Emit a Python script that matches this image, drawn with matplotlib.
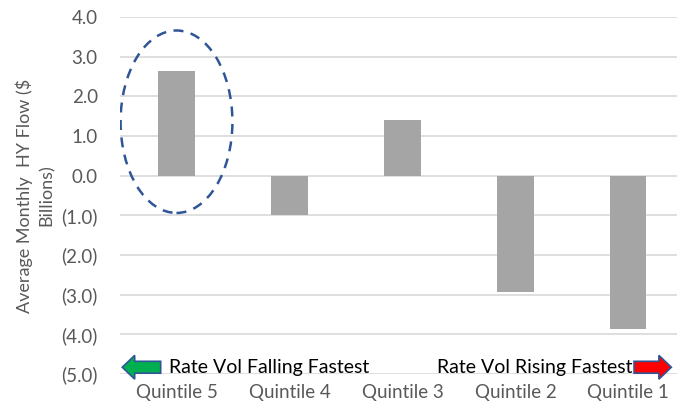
import matplotlib
matplotlib.use('Agg')
import matplotlib.pyplot as plt
from matplotlib.patches import Ellipse, FancyArrow
from matplotlib.ticker import FuncFormatter

categories = ['Quintile 5', 'Quintile 4', 'Quintile 3', 'Quintile 2', 'Quintile 1']
flows = [2.65, -0.98, 1.41, -2.93, -3.86]
y_ticks = [4, 3, 2, 1, 0, -1, -2, -3, -4, -5]

plt.rcParams['font.family'] = ['Lato', 'DejaVu Sans']

fig = plt.figure(figsize=(6.77, 4.11), dpi=100)
ax = fig.add_axes([120 / 677, 1 - 374 / 411, 1 - 120 / 677, (374 - 17) / 411])

x = range(len(categories))
ax.bar(x, flows, width=0.32, color='#A5A5A5', zorder=3)

ax.set_ylim(-5, 4)
ax.set_xlim(-0.5, 4.43)
ax.set_yticks(y_ticks)
ax.yaxis.set_major_formatter(FuncFormatter(
    lambda v, p: f'{v:.1f}' if v >= 0 else f'({abs(v):.1f})'))
ax.set_xticks(list(x))
ax.set_xticklabels(categories)
ax.tick_params(length=0, labelsize=13.5, labelcolor='#595959')
ax.tick_params(axis='x', pad=7)
ax.tick_params(axis='y', pad=16)
ax.grid(axis='y', color='#D9D9D9', linewidth=1.2, zorder=0)
for s in ax.spines.values():
    s.set_visible(False)

ax.set_ylabel('Average Monthly  HY Flow ($\nBillions)', fontsize=13,
              color='#595959', labelpad=5, linespacing=1.4)

# dashed ring round the first quintile
ax.add_patch(Ellipse((0, 1.36), 0.99, 4.6, fill=False, edgecolor='#2F5597',
                     linestyle=(0, (4, 3)), linewidth=1.8, zorder=4))

# direction arrows with their captions
ax.add_patch(FancyArrow(-0.14, -4.83, -0.23, 0, width=0.3, head_width=0.6,
                        head_length=0.11, length_includes_head=False,
                        facecolor='#00B050', edgecolor='#2F5597', linewidth=1.2,
                        zorder=5, clip_on=False))
ax.text(-0.07, -4.83, 'Rate Vol Falling Fastest', fontsize=14, color='black',
        va='center', ha='left')
ax.add_patch(FancyArrow(4.05, -4.83, 0.22, 0, width=0.3, head_width=0.6,
                        head_length=0.11, length_includes_head=False,
                        facecolor='#FF0000', edgecolor='#2F5597', linewidth=1.2,
                        zorder=5, clip_on=False))
ax.text(4.04, -4.83, 'Rate Vol Rising Fastest', fontsize=14, color='black',
        va='center', ha='right')

fig.savefig('out.png', dpi=100)
